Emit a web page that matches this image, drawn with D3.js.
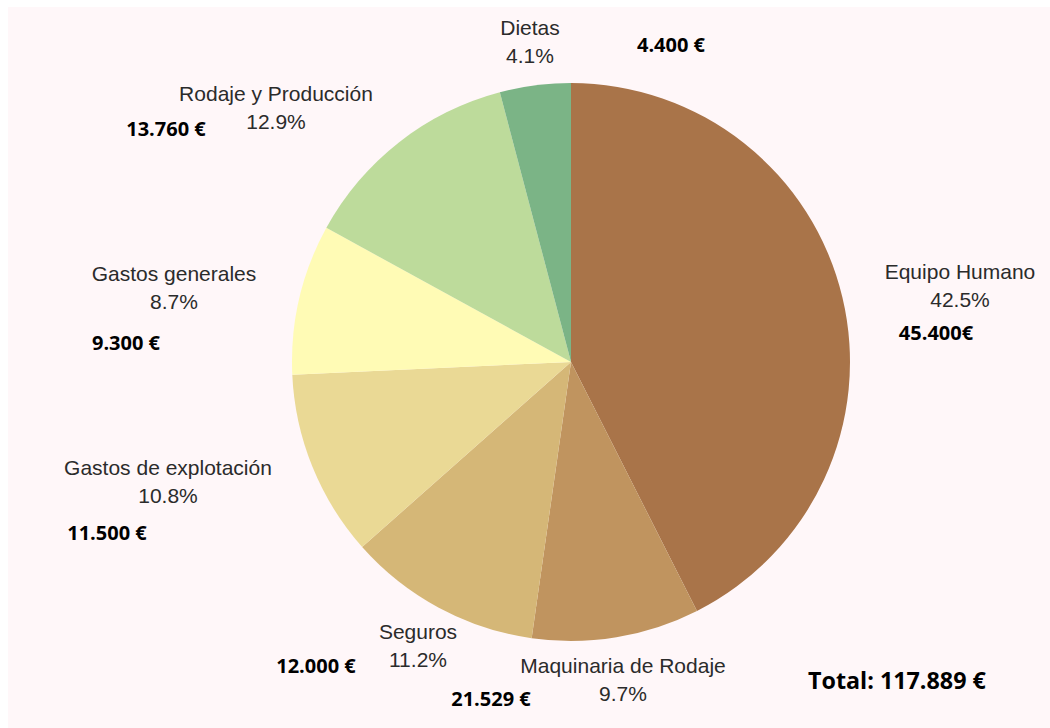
<!DOCTYPE html>
<html>
<head>
<meta charset="utf-8">
<script src="https://cdn.jsdelivr.net/npm/d3@7"></script>
<style>
  body { margin: 0; background: #fff; }
  svg { display: block; }
</style>
</head>
<body>
<div id="chart"></div>
<script>
var categories = ["Equipo Humano", "Maquinaria de Rodaje", "Seguros", "Gastos de explotación",
  "Gastos generales", "Rodaje y Producción", "Dietas"];
var percents = [42.5, 9.7, 11.2, 10.8, 8.7, 12.9, 4.1];
var amounts = ["45.400€", "21.529 €", "12.000 €", "11.500 €", "9.300 €", "13.760 €", "4.400 €"];
var totalLabel = "Total: 117.889 €";

var colors = ["#a97449", "#c0945f", "#d5b777", "#ead995", "#fffbb5", "#bddb9b", "#7bb486"];

// label anchors (name/percent block and amount), placed like the original
var nameAt = [[960, 272], [623, 666], [418, 632], [168, 468], [174, 274], [276, 94], [530, 28]];
var amountAt = [[936, 333], [491, 699], [316, 666], [107, 533], [126, 343], [166, 129], [671, 45]];

function init() {
  var w = 1050;
  var h = 728;
  var cx = 571, cy = 362, r = 279;

  var svg = d3.select("#chart")
    .append("svg")
    .attr("width", w)
    .attr("height", h);

  svg.append("rect")
    .attr("x", 8)
    .attr("y", 7)
    .attr("width", w - 8)
    .attr("height", h - 7)
    .attr("fill", "#fff7f9");

  var pie = d3.pie().sort(null).value(function(d) { return d; });
  var arc = d3.arc().innerRadius(0).outerRadius(r);

  var g = svg.append("g")
    .attr("transform", "translate(" + cx + "," + cy + ")");

  g.selectAll("path")
    .data(pie(percents))
    .enter()
    .append("path")
    .attr("d", arc)
    .attr("fill", function(d, i) { return colors[i]; });

  var labels = svg.append("g")
    .attr("font-family", "'Liberation Sans', Arial, sans-serif")
    .attr("font-size", 21)
    .attr("fill", "#2b2b2b")
    .attr("text-anchor", "middle");

  labels.selectAll("text.name")
    .data(categories)
    .enter()
    .append("text")
    .attr("class", "name")
    .attr("x", function(d, i) { return nameAt[i][0]; })
    .attr("y", function(d, i) { return nameAt[i][1]; })
    .attr("dy", "0.35em")
    .text(function(d) { return d; });

  labels.selectAll("text.pct")
    .data(percents)
    .enter()
    .append("text")
    .attr("class", "pct")
    .attr("x", function(d, i) { return nameAt[i][0]; })
    .attr("y", function(d, i) { return nameAt[i][1] + 28; })
    .attr("dy", "0.35em")
    .text(function(d) { return d.toFixed(1) + "%"; });

  svg.append("g")
    .attr("font-family", "'Open Sans', sans-serif")
    .attr("font-weight", "bold")
    .attr("font-size", 20)
    .attr("fill", "#000")
    .attr("text-anchor", "middle")
    .selectAll("text")
    .data(amounts)
    .enter()
    .append("text")
    .attr("x", function(d, i) { return amountAt[i][0]; })
    .attr("y", function(d, i) { return amountAt[i][1]; })
    .attr("dy", "0.35em")
    .text(function(d) { return d; });

  svg.append("text")
    .attr("x", 808)
    .attr("y", 681)
    .attr("dy", "0.35em")
    .attr("font-family", "'Open Sans', sans-serif")
    .attr("font-weight", "bold")
    .attr("font-size", 23.3)
    .attr("fill", "#000")
    .text(totalLabel);
}

window.onload = init;
</script>
</body>
</html>
